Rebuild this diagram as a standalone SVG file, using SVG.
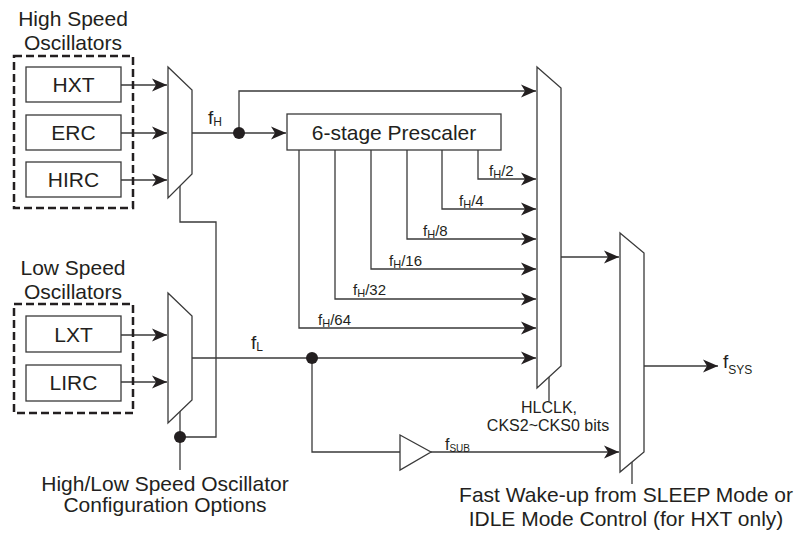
<svg xmlns="http://www.w3.org/2000/svg" width="795" height="533" viewBox="0 0 795 533">
<defs>
<marker id="arr" viewBox="0 0 16 14" refX="15" refY="7" markerWidth="16" markerHeight="14" markerUnits="userSpaceOnUse" orient="auto">
<path d="M0,0.5 L15,7 L0,13.5 L4,7 Z" fill="#231f20"/>
</marker>
<style>
text{font-family:"Liberation Sans",Arial,sans-serif;fill:#231f20}
.big{font-size:21px}
.lbl{font-size:15px}
.w{stroke:#3a3a3a;stroke-width:1.3;fill:none}
.a{marker-end:url(#arr)}
.box{fill:#fff;stroke:#3a3a3a;stroke-width:1.3}
.dash{fill:none;stroke:#231f20;stroke-width:2.5;stroke-dasharray:8,4}
.dot{fill:#231f20}
</style>
</defs>
<rect width="795" height="533" fill="#fff"/>

<g id="connectors">
<path class="w a" d="M121,85 H167"/>
<path class="w a" d="M121,133 H167"/>
<path class="w a" d="M121,180 H167"/>
<path class="w a" d="M121,335 H167"/>
<path class="w a" d="M121,382 H167"/>
<path class="w" d="M192,133 H239"/>
<path class="w a" d="M239,133 H286"/>
<path class="w a" d="M239,133 V91 H536"/>
<path class="w a" d="M478,150 V179 H536"/>
<path class="w a" d="M442,150 V209 H536"/>
<path class="w a" d="M407,150 V239 H536"/>
<path class="w a" d="M371,150 V269 H536"/>
<path class="w a" d="M335,150 V299 H536"/>
<path class="w a" d="M299,150 V328 H536"/>
<path class="w a" d="M192,358 H536"/>
<path class="w" d="M312,358 V452 H400"/>
<path class="w a" d="M431,452 H619"/>
<path class="w a" d="M561,257 H619"/>
<path class="w a" d="M644,366 H718"/>
<path class="w" d="M180,186 V222 H216 V437 H180"/>
<path class="w" d="M180,411 V470"/>
<path class="w" d="M549,377 V401"/>
<path class="w" d="M632,462 V484"/>
<circle class="dot" cx="239" cy="133" r="6"/>
<circle class="dot" cx="312" cy="358" r="6"/>
<circle class="dot" cx="180" cy="437" r="6"/>
</g>

<g id="hs-group">
<rect class="dash" x="14" y="56" width="119" height="152"/>
<text class="big" x="73" y="26" text-anchor="middle">High Speed</text>
<text class="big" x="73" y="50" text-anchor="middle">Oscillators</text>
</g>
<g id="hxt"><rect class="box" x="26" y="67" width="95" height="35"/><text class="big" x="73.5" y="92" text-anchor="middle">HXT</text></g>
<g id="erc"><rect class="box" x="26" y="115" width="95" height="35"/><text class="big" x="73.5" y="140" text-anchor="middle">ERC</text></g>
<g id="hirc"><rect class="box" x="26" y="162" width="95" height="35"/><text class="big" x="73.5" y="187" text-anchor="middle">HIRC</text></g>

<g id="ls-group">
<rect class="dash" x="14" y="304" width="119" height="109"/>
<text class="big" x="73" y="275" text-anchor="middle">Low Speed</text>
<text class="big" x="73" y="299" text-anchor="middle">Oscillators</text>
</g>
<g id="lxt"><rect class="box" x="26" y="316" width="95" height="36"/><text class="big" x="73.5" y="342" text-anchor="middle">LXT</text></g>
<g id="lirc"><rect class="box" x="26" y="365" width="95" height="36"/><text class="big" x="73.5" y="390" text-anchor="middle">LIRC</text></g>

<g id="mux-high"><polygon class="box" points="168,67 192,90 192,174 168,198"/></g>
<g id="mux-low"><polygon class="box" points="168,293 192,316 192,400 168,423"/></g>
<g id="mux-clk"><polygon class="box" points="537,67 561,88 561,366 537,388"/></g>
<g id="mux-sys"><polygon class="box" points="620,233 644,253 644,452 620,472"/></g>
<g id="buffer"><polygon class="box" points="400,435 431,452 400,470"/></g>

<g id="prescaler">
<rect class="box" x="287" y="114" width="214" height="36"/>
<text class="big" x="394" y="140" text-anchor="middle">6-stage Prescaler</text>
</g>

<g id="labels">
<text x="208" y="124" font-size="19">f<tspan font-size="12" dy="2">H</tspan></text>
<text x="251" y="349" font-size="19">f<tspan font-size="12" dy="2">L</tspan></text>
<text x="723" y="368" font-size="19">f<tspan font-size="12" dy="6">SYS</tspan></text>
<text x="445" y="450" font-size="16">f<tspan font-size="10" dy="2">SUB</tspan></text>
<text class="lbl" x="489" y="176">f<tspan font-size="11" dy="2">H</tspan><tspan dy="-2">/2</tspan></text>
<text class="lbl" x="459" y="206">f<tspan font-size="11" dy="2">H</tspan><tspan dy="-2">/4</tspan></text>
<text class="lbl" x="423" y="236">f<tspan font-size="11" dy="2">H</tspan><tspan dy="-2">/8</tspan></text>
<text class="lbl" x="389" y="266">f<tspan font-size="11" dy="2">H</tspan><tspan dy="-2">/16</tspan></text>
<text class="lbl" x="353" y="295">f<tspan font-size="11" dy="2">H</tspan><tspan dy="-2">/32</tspan></text>
<text class="lbl" x="318" y="325">f<tspan font-size="11" dy="2">H</tspan><tspan dy="-2">/64</tspan></text>
<text x="549" y="413" font-size="16" text-anchor="middle">HLCLK,</text>
<text x="548" y="431" font-size="16" text-anchor="middle">CKS2~CKS0 bits</text>
<text class="big" x="165" y="491" text-anchor="middle">High/Low Speed Oscillator</text>
<text class="big" x="165" y="512" text-anchor="middle">Configuration Options</text>
<text class="big" x="626" y="502" text-anchor="middle">Fast Wake-up from SLEEP Mode or</text>
<text class="big" x="626" y="526" text-anchor="middle">IDLE Mode Control (for HXT only)</text>
</g>
</svg>
